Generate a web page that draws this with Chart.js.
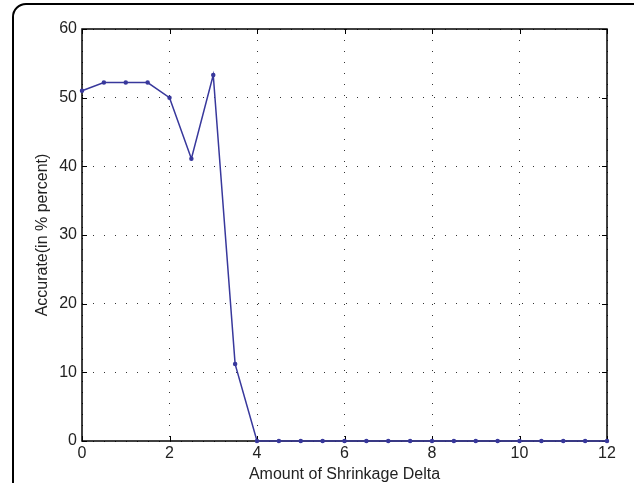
<!DOCTYPE html>
<html>
<head>
<meta charset="utf-8">
<script src="https://cdn.jsdelivr.net/npm/chart.js@4"></script>
<style>
  html, body { margin: 0; padding: 0; background: #fff; overflow: hidden; }
  #wrap { position: relative; width: 634px; height: 483px; overflow: hidden; }
  #frame {
    position: absolute; left: 12px; top: 3px; width: 700px; height: 600px;
    border: 2px solid #000; border-radius: 14px; pointer-events: none;
  }
</style>
</head>
<body>
<div id="wrap">
  <canvas id="chart" width="634" height="484"></canvas>
  <div id="frame"></div>
</div>
<script>
// shrinkage delta steps
const deltas = [0, 0.5, 1, 1.5, 2, 2.5, 3, 3.5, 4, 4.5, 5, 5.5, 6, 6.5, 7, 7.5, 8, 8.5, 9, 9.5, 10, 10.5, 11, 11.5, 12];
// accuracy in percent
const accuracy = [51, 52.2, 52.2, 52.2, 50, 41.1, 53.3, 11.2, 0, 0, 0, 0, 0, 0, 0, 0, 0, 0, 0, 0, 0, 0, 0, 0, 0];
const xTicks = [0, 2, 4, 6, 8, 10, 12];
const yTicks = [0, 10, 20, 30, 40, 50, 60];

const lineColor = '#38389c';

// matlab style box with inward tick marks
const boxPlugin = {
  id: 'box',
  beforeDatasetsDraw(chart) {
    const { ctx, chartArea: a, scales } = chart;
    ctx.save();
    ctx.strokeStyle = '#000';
    ctx.lineWidth = 1.5;
    ctx.strokeRect(a.left, a.top, a.right - a.left, a.bottom - a.top);
    ctx.lineWidth = 1;
    ctx.beginPath();
    xTicks.forEach(v => {
      const x = Math.round(scales.x.getPixelForValue(v)) + 0.5;
      ctx.moveTo(x, a.bottom); ctx.lineTo(x, a.bottom - 5);
      ctx.moveTo(x, a.top); ctx.lineTo(x, a.top + 5);
    });
    yTicks.forEach(v => {
      const y = Math.round(scales.y.getPixelForValue(v)) + 0.5;
      ctx.moveTo(a.left, y); ctx.lineTo(a.left + 5, y);
      ctx.moveTo(a.right, y); ctx.lineTo(a.right - 5, y);
    });
    ctx.stroke();
    ctx.restore();
  }
};

Chart.defaults.font.family = '"Liberation Sans", Arial, sans-serif';
Chart.defaults.color = '#222';

new Chart(document.getElementById('chart'), {
  type: 'line',
  data: {
    datasets: [{
      data: deltas.map((d, i) => ({ x: d, y: accuracy[i] })),
      borderColor: lineColor,
      backgroundColor: lineColor,
      borderWidth: 1.5,
      pointRadius: 1.5,
      pointHoverRadius: 1.5,
      tension: 0,
      clip: false
    }]
  },
  options: {
    responsive: false,
    animation: false,
    layout: { padding: { left: 33, top: 29, right: 27, bottom: 0 } },
    plugins: { legend: { display: false }, tooltip: { enabled: false } },
    scales: {
      x: {
        type: 'linear', min: 0, max: 12,
        afterBuildTicks: s => { s.ticks = xTicks.map(v => ({ value: v })); },
        afterFit: s => { s.height = 43; },
        ticks: { font: { size: 16 }, padding: 3, maxRotation: 0 },
        grid: { color: '#333', drawTicks: false },
        border: { display: false, dash: [1, 10] },
        title: { display: true, text: 'Amount of Shrinkage Delta', font: { size: 16 }, padding: { top: 0, bottom: 0 } }
      },
      y: {
        type: 'linear', min: 0, max: 60,
        afterBuildTicks: s => { s.ticks = yTicks.map(v => ({ value: v })); },
        afterFit: s => { s.width = 49; },
        ticks: { font: { size: 16 }, padding: 5 },
        grid: { color: '#333', drawTicks: false },
        border: { display: false, dash: [1, 10] },
        title: { display: true, text: 'Accurate(in % percent)', font: { size: 16 }, padding: { top: 0, bottom: 0 } }
      }
    }
  },
  plugins: [boxPlugin]
});
</script>
</body>
</html>
